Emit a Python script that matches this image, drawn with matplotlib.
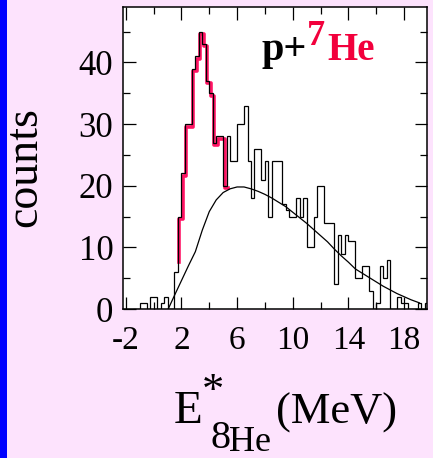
import numpy as np
import matplotlib.pyplot as plt
import matplotlib.transforms as mtransforms
from matplotlib.patches import Rectangle
from matplotlib.ticker import MultipleLocator

W, H = 433, 458

# excitation energy histogram, 0.25 MeV bins starting at -1.5 MeV
bin_lo = -1.5
bin_w = 0.25
counts = [0, 0, 1, 1, 0, 2, 2, 0, 1, 2,
          0, 0, 6, 15, 22, 30, 30, 39, 41, 45,
          43, 37, 35, 27, 28, 28, 20, 28, 24, 24,
          30, 30, 33, 24, 18, 26, 26, 21, 24, 15,
          24, 24, 24, 17, 16, 15, 15, 18, 15, 18,
          10, 10, 15, 20, 20, 14, 14, 14, 4, 12,
          9, 12, 11, 11, 5, 5, 7, 7, 3, 0,
          1, 7, 5, 8, 0, 0, 2, 1, 1, 0,
          0, 0, 1, 0, 1]

# phase-space background
bg_e = [1.05, 1.5, 2.0, 2.5, 3.0, 3.5, 4.0, 4.5, 5.0, 5.5, 6.0, 6.5, 7.0,
        7.5, 8.0, 8.5, 9.0, 9.5, 10.0, 10.5, 11.0, 11.5, 12.0, 12.5, 13.0,
        13.5, 14.0, 14.5, 15.0, 15.5, 16.0, 16.5, 17.0, 17.5, 18.0, 18.5, 19.1]
bg_y = [0.0, 2.2, 4.6, 7.0, 9.3, 12.8, 15.8, 17.7, 18.9, 19.5, 19.8, 19.8, 19.5,
        19.1, 18.6, 18.0, 17.3, 16.6, 15.7, 14.8, 13.9, 12.9, 11.9, 10.9, 9.7,
        8.6, 7.6, 6.5, 5.8, 5.1, 4.4, 3.7, 3.1, 2.5, 2.0, 1.5, 1.0]

# resonance region highlighted in red
red_from, red_to = 1.75, 5.25
red_floor = 8

pink = '#fde3fd'
red_line = '#ff1464'
red_text = '#f2003c'

plt.rcParams['font.family'] = 'Liberation Serif'
plt.rcParams['axes.unicode_minus'] = False

fig = plt.figure(figsize=(W / 100, H / 100), dpi=100, facecolor=pink)
fig.patches.append(Rectangle((0, 0), 7 / W, 1, transform=fig.transFigure,
                             facecolor='#0000ff', edgecolor='none', zorder=0))

ax = fig.add_axes([123 / W, 1 - 309 / H, (427 - 123) / W, (309 - 7) / H])
ax.set_facecolor('white')

edges = bin_lo + bin_w * np.arange(len(counts) + 1)
counts = np.array(counts)

ax.stairs(counts, edges, color='black', lw=0.9, zorder=3)

i0 = int(round((red_from - bin_lo) / bin_w))
i1 = int(round((red_to - bin_lo) / bin_w))
rx = np.concatenate([[edges[i0]], edges[i0:i1 + 1]])
ry = np.concatenate([[red_floor], counts[i0:i1], [counts[i1 - 1]]])
shift = mtransforms.offset_copy(ax.transData, fig=fig, x=1.5, y=-2.5, units='dots')
ax.step(rx, ry, where='post', color=red_line, lw=2.6, transform=shift, zorder=2)

ax.plot(bg_e, bg_y, color='black', lw=0.9, zorder=4)

ax.set_xlim(-2.2, 19.65)
ax.set_ylim(0, 49)
ax.xaxis.set_major_locator(MultipleLocator(4))
ax.xaxis.set_minor_locator(MultipleLocator(2))
ax.set_xticks([-2, 2, 6, 10, 14, 18])
ax.yaxis.set_major_locator(MultipleLocator(10))
ax.yaxis.set_minor_locator(MultipleLocator(5))
ax.tick_params(which='both', direction='in', top=True, right=True, width=0.9)
ax.tick_params(which='major', length=9)
ax.tick_params(which='minor', length=5)
ax.tick_params(axis='x', labelsize=24, pad=12)
ax.tick_params(axis='y', labelsize=25, pad=7)
for s in ax.spines.values():
    s.set_linewidth(1.1)


def px(x, y):
    return x / W, 1 - y / H


fig.text(*px(25, 167), 'counts', fontsize=33, rotation=90, ha='center', va='center')

# reaction label
fig.text(*px(262, 60), 'p+', fontsize=29, fontweight='bold', color='black')
fig.text(*px(307, 45), '7', fontsize=26, fontweight='bold', color=red_text)
fig.text(*px(327, 60), 'He', fontsize=28, fontweight='bold', color=red_text)

# axis title
fig.text(*px(174, 423), 'E', fontsize=34)
fig.text(*px(202, 403), '*', fontsize=32)
fig.text(*px(210, 448), '8', fontsize=29)
fig.text(*px(229, 451), 'He', fontsize=26)
fig.text(*px(276, 424), '(MeV)', fontsize=32)

fig.savefig('out.png', dpi=100, facecolor=pink)
